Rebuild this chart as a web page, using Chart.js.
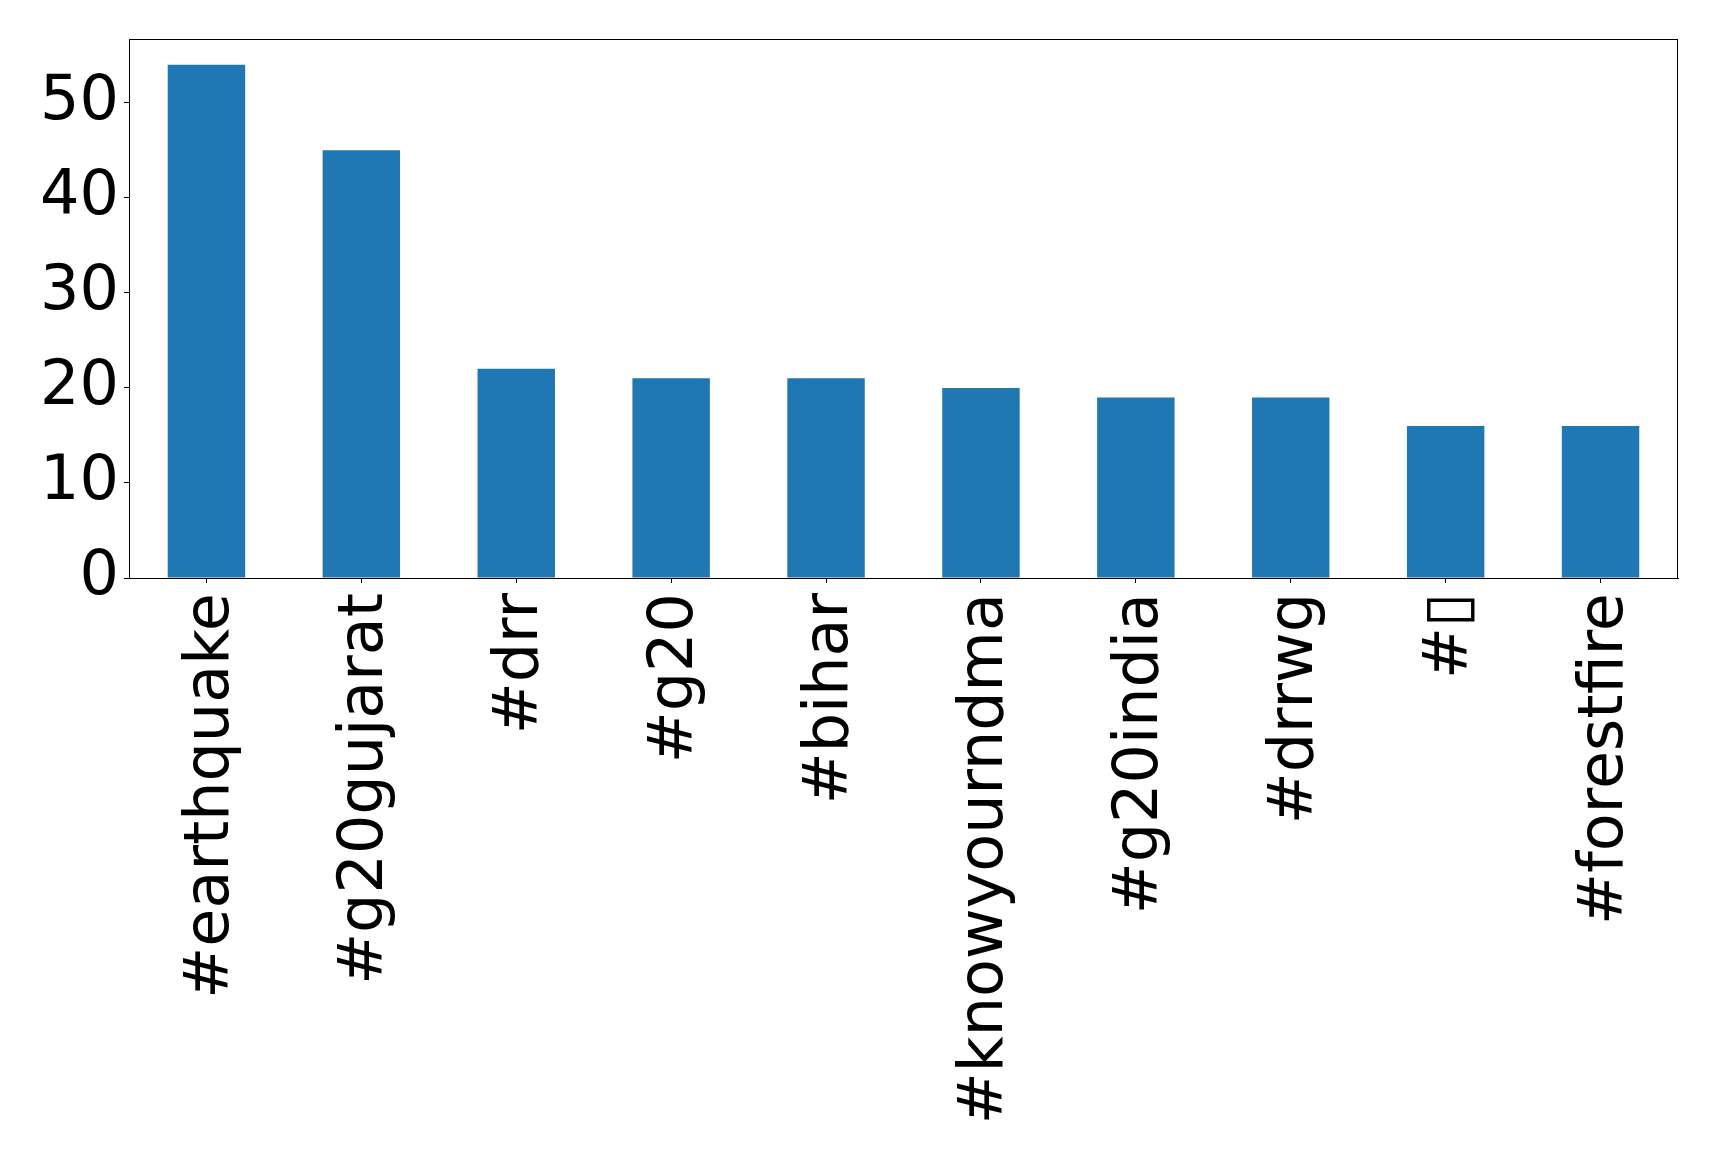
<!DOCTYPE html>
<html>
<head>
<meta charset="utf-8">
<script src="https://cdn.jsdelivr.net/npm/chart.js@4/dist/chart.umd.min.js"></script>
<style>
  html, body { margin: 0; padding: 0; background: #fff; }
  #wrap { width: 1719px; height: 1163px; }
</style>
</head>
<body>
<div id="wrap"><canvas id="chart"></canvas></div>
<script>
// hashtag counts
const categories = ['#earthquake', '#g20gujarat', '#drr', '#g20', '#bihar', '#knowyourndma', '#g20india', '#drrwg', '#\u25AF', '#forestfire'];
const counts = [54, 45, 22, 21, 21, 20, 19, 19, 16, 16];
const yTicks = [0, 10, 20, 30, 40, 50];
const yMax = 56.7;

// draw the full box round the plot area
const frame = {
    id: 'frame',
    afterDraw(chart) {
        const a = chart.chartArea;
        const ctx = chart.ctx;
        ctx.save();
        ctx.strokeStyle = '#000';
        ctx.lineWidth = 1;
        ctx.strokeRect(a.left + 0.5, a.top + 0.5, a.right - a.left - 1, a.bottom - a.top);
        ctx.restore();
    }
};

Chart.defaults.font.family = "'DejaVu Sans', sans-serif";
Chart.defaults.color = '#000';

new Chart(document.getElementById('chart').getContext('2d'), {
    type: 'bar',
    data: {
        labels: categories,
        datasets: [{
            data: counts,
            backgroundColor: '#1f77b4',
            borderWidth: 0,
            categoryPercentage: 1.0,
            barPercentage: 0.5
        }]
    },
    plugins: [frame],
    options: {
        responsive: true,
        maintainAspectRatio: false,
        animation: false,
        layout: { padding: { top: 39, right: 41, left: 0, bottom: 0 } },
        plugins: { legend: { display: false }, tooltip: { enabled: false } },
        scales: {
            x: {
                offset: true,
                grid: { display: true, offset: false, drawOnChartArea: false, tickLength: 5, color: '#000' },
                border: { display: true, color: '#000' },
                ticks: {
                    autoSkip: false,
                    minRotation: 90,
                    maxRotation: 90,
                    padding: 10,
                    labelOffset: 5,
                    font: { size: 62 }
                },
                afterFit(scale) { scale.height = 585; }
            },
            y: {
                min: 0,
                max: yMax,
                grid: { display: true, drawOnChartArea: false, tickLength: 5, color: '#000' },
                border: { display: true, color: '#000' },
                afterBuildTicks(scale) { scale.ticks = yTicks.map(v => ({ value: v })); },
                ticks: {
                    padding: 5,
                    font: { size: 62 }
                },
                afterFit(scale) {
                    scale.width = 129;
                    scale.paddingTop = 0;
                    scale.paddingBottom = 0;
                }
            }
        }
    }
});
</script>
</body>
</html>
